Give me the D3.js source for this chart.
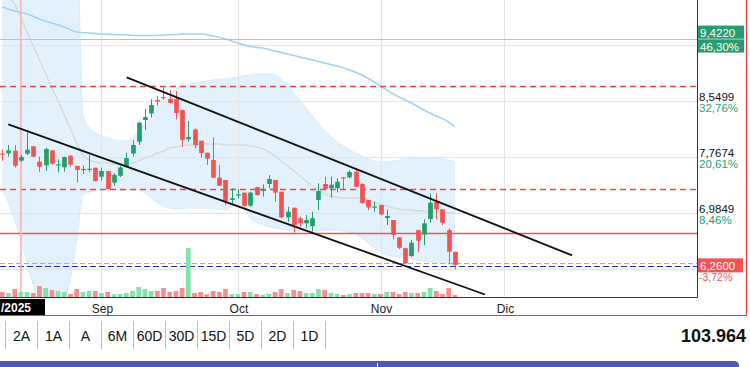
<!DOCTYPE html>
<html><head><meta charset="utf-8">
<script src="https://cdn.jsdelivr.net/npm/d3@7"></script>
<style>html,body{margin:0;padding:0;background:#fff;overflow:hidden}svg{display:block;font-family:"Liberation Sans",Arial,sans-serif}</style>
</head><body><svg id="c" width="750" height="367"></svg>
<script>
// ---------- data ----------
const opens  = [7.816,7.819,7.855,7.716,7.813,7.917,7.702,7.651,7.861,7.651,7.623,7.786,7.642,7.589,7.593,7.618,7.492,7.572,7.408,7.506,7.632,7.816,7.981,8.284,8.375,8.564,8.606,8.578,8.578,8.424,8.015,8.152,7.995,7.827,7.725,7.478,7.446,7.167,7.232,7.269,7.087,7.348,7.292,7.390,7.446,7.282,6.925,7.059,6.911,6.841,6.803,7.167,7.390,7.330,7.330,7.484,7.481,7.562,7.390,7.167,7.062,7.097,6.915,6.887,6.645,6.492,6.384,6.747,6.687,6.901,7.139,7.037,6.747,6.440];
const highs  = [7.872,7.935,7.935,7.795,8.145,7.921,7.772,7.897,7.865,7.735,7.772,7.786,7.642,7.646,7.795,7.618,7.618,7.572,7.540,7.642,7.827,8.005,8.261,8.438,8.574,8.620,8.745,8.704,8.690,8.431,8.270,8.166,7.995,7.827,8.040,7.656,7.446,7.330,7.316,7.269,7.282,7.352,7.386,7.516,7.446,7.282,7.073,7.059,6.933,6.957,7.003,7.400,7.492,7.492,7.470,7.484,7.586,7.609,7.404,7.167,7.143,7.097,7.034,6.887,6.645,6.500,6.608,6.747,6.897,7.260,7.260,7.037,6.771,6.444];
const lows   = [7.716,7.772,7.623,7.698,7.795,7.767,7.562,7.576,7.656,7.554,7.562,7.632,7.414,7.530,7.554,7.425,7.436,7.313,7.362,7.488,7.623,7.772,7.935,8.145,8.322,8.480,8.564,8.518,8.291,7.911,7.981,7.889,7.760,7.656,7.474,7.362,7.097,7.097,7.190,7.073,7.073,7.227,7.213,7.330,7.143,6.911,6.863,6.710,6.793,6.771,6.724,7.027,7.306,7.199,7.274,7.316,7.470,7.344,7.111,7.027,7.003,6.950,6.817,6.617,6.478,6.272,6.366,6.440,6.538,6.849,6.897,6.817,6.282,6.198];
const closes = [7.802,7.861,7.646,7.767,7.869,7.772,7.632,7.879,7.674,7.665,7.767,7.660,7.586,7.600,7.603,7.432,7.572,7.320,7.516,7.621,7.753,7.935,8.247,8.326,8.494,8.543,8.592,8.522,8.382,8.005,8.047,7.935,7.823,7.746,7.478,7.366,7.153,7.190,7.246,7.083,7.269,7.236,7.316,7.460,7.269,6.925,7.003,6.817,6.841,6.887,6.911,7.292,7.316,7.380,7.422,7.467,7.558,7.352,7.125,7.062,7.076,6.964,6.943,6.678,6.500,6.282,6.570,6.598,6.841,7.129,7.037,6.849,6.444,6.260];
const volumes = [125,100,200,125,125,100,275,225,175,150,125,75,200,125,150,150,100,125,67,75,100,150,250,200,150,150,225,125,150,225,1225,100,125,67,150,125,200,75,75,125,125,75,50,75,125,200,100,175,150,100,100,200,175,100,75,50,75,100,100,100,75,75,125,125,75,125,100,100,125,225,150,75,225,50];
const bbUpper = [10.8,10.8,10.8,10.8,10.8,10.8,10.8,10.8,10.8,10.8,10.8,10.8,10.8,8.354,8.173,8.103,8.061,8.033,8.005,7.991,7.991,8.033,8.131,8.228,8.312,8.452,8.522,8.620,8.717,8.773,8.787,8.801,8.815,8.829,8.843,8.857,8.857,8.871,8.885,8.899,8.913,8.927,8.927,8.927,8.913,8.857,8.773,8.662,8.564,8.452,8.340,8.228,8.131,8.047,7.977,7.921,7.865,7.823,7.781,7.739,7.711,7.698,7.698,7.711,7.725,7.753,7.753,7.753,7.753,7.753,7.753,7.739,7.725,7.698];
const bbMiddle = [10.296,10.017,9.905,9.709,9.514,9.318,9.123,8.927,8.731,8.550,8.354,8.159,7.963,7.795,7.725,7.698,7.684,7.684,7.670,7.670,7.670,7.684,7.711,7.753,7.781,7.823,7.851,7.893,7.907,7.921,7.935,7.935,7.949,7.949,7.949,7.949,7.935,7.935,7.935,7.935,7.921,7.907,7.879,7.837,7.781,7.711,7.642,7.572,7.502,7.432,7.362,7.306,7.250,7.222,7.208,7.195,7.195,7.195,7.181,7.167,7.139,7.111,7.083,7.055,7.041,7.027,7.027,7.013,7.013,6.999,6.999,6.999,6.985,6.985];
const bbLower = [7.306,7.125,6.887,6.608,6.300,5.979,5.700,5.560,5.560,5.630,5.769,6.077,6.608,7.236,7.278,7.292,7.306,7.306,7.306,7.306,7.306,7.306,7.306,7.264,7.195,7.125,7.083,7.055,7.041,7.041,7.055,7.055,7.055,7.055,7.041,7.041,7.027,7.069,7.097,7.041,6.915,6.859,6.817,6.789,6.775,6.761,6.747,6.733,6.733,6.733,6.733,6.733,6.747,6.747,6.747,6.733,6.719,6.691,6.636,6.566,6.496,6.440,6.398,6.384,6.370,6.356,6.342,6.328,6.314,6.300,6.286,6.286,6.272,6.258];
const longMaIdx = [0,2,4,6,8,10,12,14,16,18,20,22,24,26,28,30,32,34,36,38,40,42,44,46,48,50,52,54,56,58,60,62,64,66,68,70,72,73];
const longMaVal = [9.863,9.807,9.765,9.696,9.640,9.584,9.514,9.500,9.486,9.479,9.472,9.465,9.465,9.472,9.479,9.486,9.486,9.458,9.416,9.360,9.311,9.290,9.248,9.206,9.165,9.123,9.081,9.039,8.983,8.913,8.815,8.704,8.606,8.522,8.424,8.340,8.256,8.187];
const gridLevels = [6.2024,6.9849,7.7674,8.5499,9.3324];
const axisTicks = [6.9849,7.7674,8.5499];
const axisTickLabels = ["6,9849","7,7674","8,5499"];
const axisPctLabels = ["8,46%","20,61%","32,76%"];
const monthLabels = ["Sep","Oct","Nov","Dic"];
const monthIdx = [16,38,61,81];
const rangeButtons = ["2A","1A","A","6M","60D","30D","15D","5D","2D","1D"];
const channelUpper = [[20.06,8.881],[91.9,6.3925]];
const channelLower = [[0.97,8.224],[77.85,5.846]];
const levelValues = [9.4220, 8.755, 7.320, 6.701, 6.281, 6.251];
const levelColors = ["#f6a7a7","#f24444","#f24444","#ef5350","#f39c33","#1f2fc8"];
const levelDash   = [null,"6,4","6,4",null,"5,3","6,3"];
const levelWidth  = [1.1,1.3,1.3,1.3,1.1,1.1];
const markerIdx = 3;
const lastPrice = 6.2600, lastPriceLabel = "6,2600", lastPctLabel = "-3,72%";
const topLevelLabel = "9,4220", topLevelPct = "46,30%";
const dateBoxLabel = "/2025";
const totalLabel = "103.964";

// ---------- layout ----------
const svg = d3.select("#c");
const PW = 697.5, PB = 297;
const x = d3.scaleLinear().domain([0, 73]).range([2.3, 454.9]);
const y = d3.scaleLinear().domain([6.2024, 9.3324]).range([269, 45]);
const yv = d3.scaleLinear().domain([0, 1250]).range([PB, PB - 50]);
const GREEN = "#22a06b", RED = "#f45353";

svg.append("rect").attr("width",750).attr("height",367).attr("fill","#fff");
svg.append("clipPath").attr("id","pc").append("rect").attr("x",0).attr("y",0).attr("width",PW).attr("height",PB);
const g = svg.append("g").attr("clip-path","url(#pc)");

const N = closes.length;
const ids = d3.range(N);

// Bollinger band fill
g.append("path").datum(ids)
  .attr("d", d3.area().x(i=>x(i)).y0(i=>y(bbLower[i])).y1(i=>y(bbUpper[i])).curve(d3.curveMonotoneX))
  .attr("fill","#e3f1fc");
g.append("path").datum(ids).attr("d", d3.line().x(i=>x(i)).y(i=>y(bbUpper[i])).curve(d3.curveMonotoneX))
  .attr("fill","none").attr("stroke","#d6eaf9").attr("stroke-width",1);
g.append("path").datum(ids).attr("d", d3.line().x(i=>x(i)).y(i=>y(bbLower[i])).curve(d3.curveMonotoneX))
  .attr("fill","none").attr("stroke","#d6eaf9").attr("stroke-width",1);

// grid
g.selectAll(".gh").data(gridLevels).enter().append("line")
  .attr("x1",0).attr("x2",PW).attr("y1",d=>Math.round(y(d))+0.5).attr("y2",d=>Math.round(y(d))+0.5)
  .attr("stroke","#e4e4e4").attr("stroke-width",1);
g.selectAll(".gv").data(monthIdx).enter().append("line")
  .attr("y1",0).attr("y2",PB).attr("x1",d=>Math.round(x(d))+0.5).attr("x2",d=>Math.round(x(d))+0.5)
  .attr("stroke","#e4e4e4").attr("stroke-width",1);

// middle band line
g.append("path").datum(ids).attr("d", d3.line().x(i=>x(i)).y(i=>y(bbMiddle[i])).curve(d3.curveMonotoneX))
  .attr("fill","none").attr("stroke","#d9d9d9").attr("stroke-width",1.5);
// long MA
g.append("path").datum(d3.range(longMaIdx.length))
  .attr("d", d3.line().x(k=>x(longMaIdx[k])).y(k=>y(longMaVal[k])).curve(d3.curveMonotoneX))
  .attr("fill","none").attr("stroke","#a3d2f5").attr("stroke-width",1.6);

// level lines
levelValues.forEach((v,k)=>{
  const ln = g.append("line").attr("x1",0).attr("x2",PW)
    .attr("y1",Math.round(y(v))+0.5).attr("y2",Math.round(y(v))+0.5)
    .attr("stroke",levelColors[k]).attr("stroke-width",levelWidth[k]);
  if(levelDash[k]) ln.attr("stroke-dasharray",levelDash[k]);
});
// crosshair vertical
g.append("line").attr("x1",x(markerIdx)).attr("x2",x(markerIdx)).attr("y1",0).attr("y2",PB)
  .attr("stroke","#f7b1b1").attr("stroke-width",1.5);

// volume
g.selectAll(".vol").data(ids).enter().append("rect")
  .attr("x",i=>x(i)-2.35).attr("width",4.7)
  .attr("y",i=>yv(volumes[i])).attr("height",i=>PB-yv(volumes[i]))
  .attr("fill",i=>closes[i]>=opens[i]?"#85e0ae":"#f58e8e");

// candles
const cg = g.selectAll(".cd").data(ids).enter().append("g");
cg.append("line").attr("x1",i=>Math.round(x(i))+0.5).attr("x2",i=>Math.round(x(i))+0.5)
  .attr("y1",i=>y(highs[i])).attr("y2",i=>y(lows[i]))
  .attr("stroke",i=>closes[i]>=opens[i]?GREEN:RED).attr("stroke-width",1);
cg.append("rect").attr("x",i=>Math.round(x(i))+0.5-2.35).attr("width",4.7)
  .attr("y",i=>y(Math.max(opens[i],closes[i])))
  .attr("height",i=>Math.max(1.2, Math.abs(y(opens[i])-y(closes[i]))))
  .attr("fill",i=>closes[i]>=opens[i]?GREEN:RED);

// channel lines
[channelUpper, channelLower].forEach(c=>{
  g.append("line").attr("x1",x(c[0][0])).attr("y1",y(c[0][1])).attr("x2",x(c[1][0])).attr("y2",y(c[1][1]))
   .attr("stroke","#111").attr("stroke-width",1.8);
});

// frame
svg.append("line").attr("x1",PW).attr("x2",PW).attr("y1",0).attr("y2",PB+0.5).attr("stroke","#333").attr("stroke-width",1);
svg.append("line").attr("x1",0).attr("x2",PW).attr("y1",PB+0.5).attr("y2",PB+0.5).attr("stroke","#333").attr("stroke-width",1);
svg.append("line").attr("x1",746.5).attr("x2",746.5).attr("y1",0).attr("y2",315.5).attr("stroke","#e53935").attr("stroke-width",1.2);
svg.append("line").attr("x1",0).attr("x2",746.5).attr("y1",315.5).attr("y2",315.5).attr("stroke","#e53935").attr("stroke-width",1.2);

// right axis labels
const ax = svg.append("g").attr("font-size",11.5);
axisTicks.forEach((v,k)=>{
  const yy = y(v);
  ax.append("text").attr("x",699).attr("y",yy-0.5).attr("fill","#111").text(axisTickLabels[k]);
  ax.append("text").attr("x",699).attr("y",yy+10.5).attr("fill","#26a17b").text(axisPctLabels[k]);
});
// top level box
const yt = y(levelValues[0]);
ax.append("rect").attr("x",698).attr("y",yt-13).attr("width",46).attr("height",27).attr("fill","#279c70");
ax.append("line").attr("x1",698).attr("x2",744).attr("y1",yt+0.5).attr("y2",yt+0.5).attr("stroke","#9fd8bf").attr("stroke-width",1);
ax.append("text").attr("x",700).attr("y",yt-2).attr("fill","#fff").text(topLevelLabel);
ax.append("text").attr("x",700).attr("y",yt+12).attr("fill","#fff").text(topLevelPct);
// last price box
const yl = y(lastPrice);
ax.append("rect").attr("x",698).attr("y",yl-6.5).attr("width",45).attr("height",14).attr("fill","#f45353");
ax.append("text").attr("x",700).attr("y",yl+5).attr("fill","#fff").text(lastPriceLabel);
ax.append("text").attr("x",699).attr("y",yl+16.5).attr("font-size",10.5).attr("fill","#f45353").text(lastPctLabel);

// date axis
const dx = svg.append("g").attr("font-size",12).attr("fill","#222").attr("text-anchor","middle");
monthIdx.forEach((m,k)=>{ dx.append("text").attr("x",x(m)+1).attr("y",312.5).text(monthLabels[k]); });
svg.append("rect").attr("x",0).attr("y",299).attr("width",45).attr("height",16).attr("fill","#000");
svg.append("text").attr("x",1).attr("y",311.5).attr("font-size",12).attr("font-weight","bold").attr("fill","#fff").text(dateBoxLabel);

// range buttons
const bx = svg.append("g");
const bw = 32, b0 = 5.5;
rangeButtons.forEach((b,k)=>{
  bx.append("line").attr("x1",b0+k*bw).attr("x2",b0+k*bw).attr("y1",321).attr("y2",349).attr("stroke","#cbb6b6").attr("stroke-width",1);
  bx.append("text").attr("x",b0+k*bw+bw/2).attr("y",340.5).attr("text-anchor","middle").attr("font-size",14).attr("fill","#111").text(b);
});
bx.append("line").attr("x1",b0+rangeButtons.length*bw).attr("x2",b0+rangeButtons.length*bw).attr("y1",321).attr("y2",349).attr("stroke","#cbb6b6");
svg.append("text").attr("x",746).attr("y",341.5).attr("text-anchor","end").attr("font-size",18).attr("font-weight","bold").attr("fill","#111").text(totalLabel);

// bottom strip
svg.append("path").attr("d","M0,361 H734 Q739,361 739,366 V367 H0 Z").attr("fill","#5058b5");
svg.append("line").attr("x1",377.5).attr("x2",377.5).attr("y1",363).attr("y2",367).attr("stroke","#fff");
</script></body></html>
